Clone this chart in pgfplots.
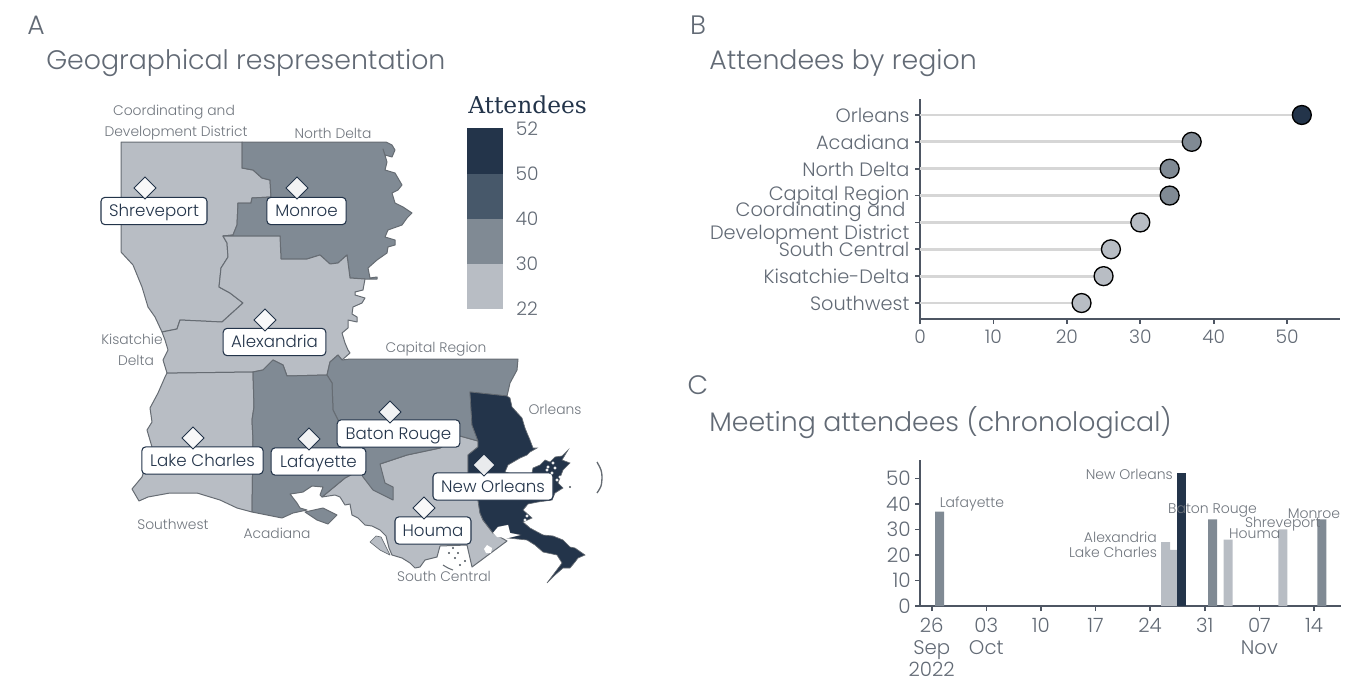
\documentclass[border=0pt]{standalone}
\usepackage{pgfplots}
\pgfplotsset{compat=1.18}
\usepackage{fontspec}
\setmainfont{Poppins}[UprightFont=* Light]
\newfontfamily\legfont{DejaVu Serif}
\definecolor{cA}{HTML}{23344A}
\definecolor{cB}{HTML}{47586A}
\definecolor{cC}{HTML}{808A94}
\definecolor{cD}{HTML}{B8BDC4}
\definecolor{ax}{HTML}{4E5663}
\definecolor{tx}{HTML}{626A75}
\definecolor{rg}{HTML}{6F757D}
\definecolor{bd}{HTML}{666C73}
\newcommand{\fs}[1]{\fontsize{#1}{#1}\selectfont}
\tikzset{lbl/.style={draw=cA,fill=white,rounded corners=3pt,line width=0.8pt,inner sep=0pt,minimum height=20.5pt,font=\fs{12.5},text=cA,text height=10.6pt,text depth=2pt},
 rt/.style={font=\fs{10.4},text=rg,inner sep=0pt},
 ttl/.style={font=\fs{20.1},text=tx,anchor=west,inner sep=0pt},
 bl/.style={font=\fs{10.5},text=rg,inner sep=0pt}}
\pgfplotsset{region/.style={draw=bd,line width=0.75pt,line join=round}}
\begin{document}
\begin{tikzpicture}
\path[use as bounding box] (0,0) rectangle (1011pt,508.5pt);
\begin{axis}[at={(0pt,0pt)},anchor=south west,scale only axis,width=1011pt,height=508.5pt,
 xmin=0,xmax=1348,ymin=0,ymax=678,y dir=reverse,axis lines=none,clip=false]
% Coordinating and Development District
\addplot[region,fill=cD] coordinates {(121,142)(242,142)(242,168)(253,170)(262,178)(270,180)(271,197)(252,198)(251,203)(238,203)(237,225)(233,235)(223,236)(227,243)(228,257)(221,268)(219,287)(230,293)(243,303)(222,322)(180,320)(177,329)(167,331)(162,332)(155,317)(148,307)(142,287)(133,265)(121,252)} -- cycle;
% North Delta
\addplot[region,fill=cC] coordinates {(242,142)(386,142)(392,145)(395,150)(392,157)(385,155)(383,149)(387,162)(385,170)(395,173)(402,185)(398,190)(392,193)(395,203)(403,207)(412,213)(407,218)(402,225)(388,230)(385,237)(395,240)(395,245)(388,247)(387,253)(377,260)(368,268)(370,278)(377,277)(377,279)(365,279)(350,278)(347,255)(338,263)(330,264)(320,255)(307,259)(281,259)(280,236)(223,236)(233,235)(237,225)(238,203)(251,203)(252,198)(271,197)(270,180)(262,178)(253,170)(242,168)} -- cycle;
% Kisatchie-Delta
\addplot[region,fill=cD] coordinates {(223,236)(280,236)(281,259)(307,259)(320,255)(330,264)(338,263)(347,255)(350,278)(365,279)(363,290)(355,292)(355,295)(365,298)(362,303)(353,307)(352,314)(357,317)(357,322)(348,320)(348,328)(342,333)(345,343)(348,350)(350,353)(342,360)(338,355)(330,362)(327,375)(287,376)(283,365)(273,360)(263,370)(253,372)(177,373)(167,373)(163,360)(168,350)(165,340)(162,332)(167,331)(177,329)(180,320)(222,322)(243,303)(230,293)(219,287)(221,268)(228,257)(227,243)} -- cycle;
% Southwest
\addplot[region,fill=cD] coordinates {(167,373)(177,373)(253,372)(254,407)(252,420)(253,440)(252,512)(237,508)(220,500)(197,493)(170,493)(148,497)(139,501)(132,489)(142,477)(152,447)(147,430)(152,422)(150,408)(158,393)(165,377)} -- cycle;
% South Central
\addplot[region,fill=cD] coordinates {(478,441)(460,436)(440,448)(407,455)(380,464)(360,470)(345,478)(322,497)(335,495)(340,497)(345,505)(350,504)(352,515)(358,518)(365,525)(372,526)(380,530)(386,536)(389,548)(392,555)(402,558)(410,563)(415,568)(420,567)(425,560)(437,557)(440,546)(467,545)(472,567)(507,541)(493,533)(483,520)(480,513)(478,500)(468,473)(468,455)(478,447)} -- cycle;
\addplot[region,fill=cD,line width=0.5pt] coordinates {(370,542)(376,536)(381,537)(386,547)(390,555)(380,550)} -- cycle;
% Capital Region
\addplot[region,fill=cC] coordinates {(327,375)(330,362)(338,355)(342,360)(350,359)(518,359)(517,370)(510,383)(507,396)(470,392)(472,425)(478,441)(460,436)(440,448)(407,455)(380,464)(385,483)(393,487)(393,500)(373,490)(363,477)(360,470)(350,450)(338,420)(333,410)(332,383)} -- cycle;
% Acadiana
\addplot[region,fill=cC] coordinates {(253,372)(263,370)(273,360)(283,365)(287,376)(327,375)(332,383)(333,410)(338,420)(350,450)(360,470)(345,478)(322,497)(320,495)(323,487)(312,486)(303,492)(297,493)(290,494)(297,503)(300,508)(307,510)(293,513)(282,518)(252,512)(253,440)(252,420)(254,407)} -- cycle;
\addplot[region,fill=cC] coordinates {(305,512)(323,508)(337,515)(328,524)(317,520)} -- cycle;
% Orleans
\addplot[draw=bd,line width=0.5pt,fill=cA] coordinates {(470,392)(507,396)(510,398)(512,407)(522,418)(525,428)(527,433)(530,440)(533,448)(537,448)(530,452)(527,455)(520,458)(508,465)(505,472)(520,476)(532,473)(533,468)(540,465)(545,460)(550,462)(555,457)(562,456)(568,450)(562,460)(570,463)(563,470)(558,483)(563,488)(555,493)(552,500)(538,502)(528,504)(523,510)(532,518)(523,522)(530,528)(543,535)(553,536)(563,540)(570,547)(575,548)(585,555)(578,558)(575,562)(570,568)(563,568)(555,575)(547,583)(562,563)(557,555)(543,552)(535,545)(527,540)(508,538)(520,535)(510,533)(508,525)(498,527)(493,533)(483,520)(480,513)(478,500)(468,473)(468,455)(478,447)(478,441)(472,425)} -- cycle;
% water bodies and islands
\addplot[fill=white,draw=none] coordinates {(498,527)(508,525)(510,533)(520,535)(508,538)(497,537)(493,533)} -- cycle;
\addplot[fill=white,draw=none] coordinates {(487,545)(492,548)(491,553)(486,553)(484,549)} -- cycle;
\addplot[only marks,mark=*,mark size=0.9pt,white,mark options={draw=none}] coordinates {(548,467)(555,468)(552,473)(560,477)(557,480)(553,463)(530,511)(527,516)(525,520)(562,478)(547,470)};
\addplot[only marks,mark=*,mark size=0.6pt,bd,mark options={draw=none}] coordinates {(453,548)(455,558)(460,565)(458,553)(465,561)(449,553)(570,487)};
\addplot[draw=bd,line width=0.8pt,smooth] coordinates {(443,565)(448,568)(453,570)};
\addplot[draw=bd,line width=1pt,smooth] coordinates {(597,462)(601,470)(602,477)(601,486)(597,493)};
% legend
\addplot[fill=cD,draw=none] coordinates {(467,264)(503,264)(503,309)(467,309)} -- cycle;
\addplot[fill=cC,draw=none] coordinates {(467,219)(503,219)(503,264)(467,264)} -- cycle;
\addplot[fill=cB,draw=none] coordinates {(467,174)(503,174)(503,219)(467,219)} -- cycle;
\addplot[fill=cA,draw=none] coordinates {(467,128)(503,128)(503,174)(467,174)} -- cycle;
% diamonds
\addplot[only marks,mark=square*,mark size=5.8pt,mark options={rotate=45,fill=white,fill opacity=0.9,draw=cA,line width=0.7pt}] coordinates {(145,188)(297,188)(265,320)(390,412)(193,438)(309,439)(484,465)(424,508)};
% texts
\node[lbl,minimum width=79.5pt] at (axis cs:154,211) {Shreveport};
\node[lbl,minimum width=59.5pt] at (axis cs:306.5,211) {Monroe};
\node[lbl,minimum width=77pt] at (axis cs:274.5,342) {Alexandria};
\node[lbl,minimum width=92pt] at (axis cs:398.5,433.5) {Baton Rouge};
\node[lbl,minimum width=91pt] at (axis cs:202.5,460.5) {Lake Charles};
\node[lbl,minimum width=71pt] at (axis cs:318.5,461.5) {Lafayette};
\node[lbl,minimum width=90pt] at (axis cs:493,486.5) {New Orleans};
\node[lbl,minimum width=57pt] at (axis cs:433,530.5) {Houma};
\node[rt] at (axis cs:174,112) {Coordinating and};
\node[rt] at (axis cs:176,133) {Development District};
\node[rt] at (axis cs:333,133) {North Delta};
\node[rt] at (axis cs:132,339) {Kisatchie};
\node[rt] at (axis cs:136,360) {Delta};
\node[rt] at (axis cs:436,349) {Capital Region};
\node[rt] at (axis cs:555,409) {Orleans};
\node[rt] at (axis cs:173,524) {Southwest};
\node[rt] at (axis cs:277,533) {Acadiana};
\node[rt] at (axis cs:444,576) {South Central};
\node[ttl] at (axis cs:46,63) {Geographical respresentation};
\node[ttl] at (axis cs:709,63) {Attendees by region};
\node[ttl] at (axis cs:709,423) {Meeting attendees (chronological)};
\node[font=\fs{20},text=tx,inner sep=0pt] at (axis cs:36,25) {A};
\node[font=\fs{20},text=tx,inner sep=0pt] at (axis cs:698,25) {B};
\node[font=\fs{20},text=tx,inner sep=0pt] at (axis cs:698,385) {C};
\node[font=\legfont\fs{17.5},text=cA,anchor=west,inner sep=0pt] at (axis cs:468,105) {Attendees};
\node[font=\fs{14},text=tx,inner sep=0pt] at (axis cs:527,129) {52};
\node[font=\fs{14},text=tx,inner sep=0pt] at (axis cs:527,174) {50};
\node[font=\fs{14},text=tx,inner sep=0pt] at (axis cs:527,219) {40};
\node[font=\fs{14},text=tx,inner sep=0pt] at (axis cs:527,264) {30};
\node[font=\fs{14},text=tx,inner sep=0pt] at (axis cs:527,309) {22};
\end{axis}
% Panel B
\begin{axis}[at={(690pt,269.25pt)},anchor=south west,scale only axis,width=315pt,height=165pt,
 xmin=0,xmax=57.2,ymin=0.405,ymax=8.595,clip=false,
 axis x line*=bottom,axis y line*=left,axis line style={-,draw=ax,line width=1.6pt},
 tick style={draw=ax,line width=1.2pt},tick align=outside,major tick length=3.75pt,
 xtick={0,10,...,50},ytick={1,...,8},
 yticklabels={Southwest,Kisatchie-Delta,South Central,{Coordinating and\hspace{3pt} \\ Development District},Capital Region,North Delta,Acadiana,Orleans},
 yticklabel style={font=\fontsize{14.5}{17.25}\selectfont,text=tx,align=right,inner sep=0pt,xshift=-4pt,yshift=-0.3pt},
 xticklabel style={font=\fs{14},text=tx,inner sep=0pt,yshift=-4.5pt},
 /pgf/number format/assume math mode=true]
\addplot[xcomb,draw=black!16,line width=2.1pt] coordinates {(52,8)(37,7)(34,6)(34,5)(30,4)(26,3)(25,2)(22,1)};
\addplot[only marks,mark=*,mark size=7.1pt,mark options={fill=cA,draw=black,line width=1pt}] coordinates {(52,8)};
\addplot[only marks,mark=*,mark size=7.1pt,mark options={fill=cC,draw=black,line width=1pt}] coordinates {(37,7)(34,6)(34,5)};
\addplot[only marks,mark=*,mark size=7.1pt,mark options={fill=cD,draw=black,line width=1pt}] coordinates {(30,4)(26,3)(25,2)(22,1)};
\end{axis}
% Panel C
\begin{axis}[at={(690pt,54pt)},anchor=south west,scale only axis,width=315.75pt,height=109.5pt,
 xmin=-1.5,xmax=52.47,ymin=0,ymax=57.25,clip=false,
 axis x line*=bottom,axis y line*=left,axis line style={-,draw=ax,line width=1.6pt},
 tick style={draw=ax,line width=1.2pt},tick align=outside,major tick length=3.75pt,
 xtick={0,7,...,49},ytick={0,10,...,50},
 xticklabels={{26\\Sep\\2022},{03\\Oct},10,17,24,31,{07\\Nov},14},
 xticklabel style={font=\fontsize{14.8}{16.4}\selectfont,text=tx,align=center,anchor=north,inner sep=0pt,yshift=-5pt},
 yticklabel style={font=\fs{15},text=tx,inner sep=0pt,xshift=-3pt},
 /pgf/number format/assume math mode=true]
\addplot[ybar,bar shift=0pt,bar width=6.75pt,fill=cC,draw=none] coordinates {(1,37)(36,34)(50,34)};
\addplot[ybar,bar shift=0pt,bar width=6.75pt,fill=cD,draw=none] coordinates {(31,22)(30,25)(38,26)(45,30)};
\addplot[ybar,bar shift=0pt,bar width=6.75pt,fill=cA,draw=none] coordinates {(32,52)};
\node[bl,anchor=west] at (axis cs:1.0,40) {Lafayette};
\node[bl,anchor=east] at (axis cs:30.94,51.8) {New Orleans};
\node[bl] at (axis cs:36,37.6) {Baton Rouge};
\node[bl,anchor=east] at (axis cs:28.9,27) {Alexandria};
\node[bl,anchor=east] at (axis cs:28.9,21.2) {Lake Charles};
\node[bl,anchor=west] at (axis cs:38.1,28.2) {Houma};
\node[bl] at (axis cs:45,32.2) {Shreveport};
\node[bl] at (axis cs:49,36) {Monroe};
\end{axis}
\end{tikzpicture}
\end{document}
